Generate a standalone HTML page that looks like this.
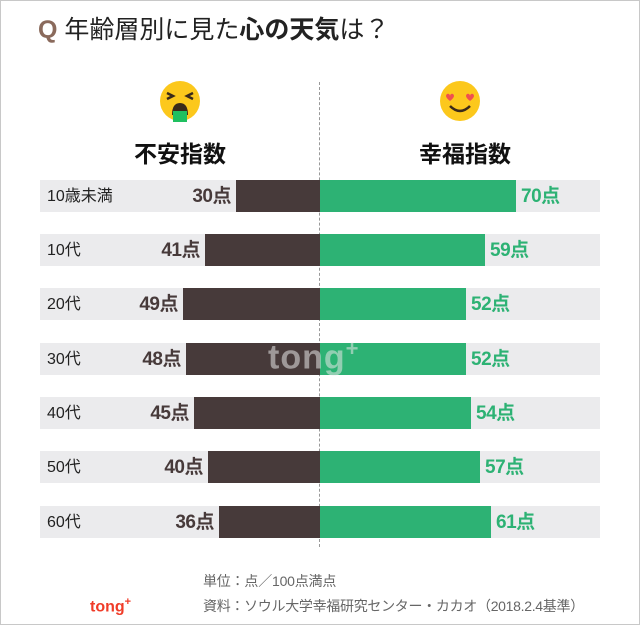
<!DOCTYPE html>
<html><head><meta charset="utf-8"><style>
*{margin:0;padding:0;box-sizing:border-box}
body{width:640px;height:625px;background:#fff;position:relative;overflow:hidden;font-family:"Liberation Sans","Noto Sans CJK JP",sans-serif}
.frame{position:absolute;left:0;top:0;width:640px;height:625px;border:1px solid #c8c8c8}
.abs{position:absolute;white-space:nowrap}
.row{position:absolute;left:40px;width:560px;height:32px;background:#ebebed}
.lab{position:absolute;left:7px;top:1px;line-height:32px;font-size:16px;color:#222}
.bl{position:absolute;top:0;height:32px;background:#473a3a}
.gr{position:absolute;top:0;height:32px;background:#2db274}
.vl{position:absolute;top:1px;line-height:32px;font-size:19px;font-weight:bold;letter-spacing:-0.5px}
</style></head><body>
<div class="frame"></div>
<div class="abs" style="left:38px;top:13px;font-size:25px;color:#222;line-height:34px"><span style="color:#8a6a5c;font-weight:bold">Q</span> 年齢層別に見た<b>心の天気</b>は？</div>
<div class="abs" style="left:319px;top:82px;height:465px;border-left:1px dashed #999"></div>
<svg class="abs" style="left:158px;top:80px" width="44" height="44" viewBox="0 0 44 44">
<ellipse cx="22" cy="21" rx="20" ry="20" fill="#fcc81c"/>
<path d="M9 13l6 3-6 3M35 13l-6 3 6 3" stroke="#3a2a1a" stroke-width="2.5" fill="none"/>
<path d="M14 35 Q14 23 22 23 Q30 23 30 35Z" fill="#3a2a1a"/>
<rect x="15" y="31" width="14" height="11" fill="#20c060"/>
</svg>
<svg class="abs" style="left:438px;top:80px" width="44" height="44" viewBox="0 0 44 44">
<ellipse cx="22" cy="21" rx="20" ry="20" fill="#fcc81c"/>
<path d="M8 16c0-3 4-3 4 0c0-3 4-3 4 0c0 2-4 5-4 5s-4-3-4-5zM28 16c0-3 4-3 4 0c0-3 4-3 4 0c0 2-4 5-4 5s-4-3-4-5z" fill="#f05050"/>
<path d="M12 26 Q22 36 32 26" stroke="#3a2a1a" stroke-width="2.5" fill="none"/>
</svg>
<div class="abs" style="left:100px;width:160px;text-align:center;top:135px;font-size:23px;font-weight:bold;color:#111">不安指数</div>
<div class="abs" style="left:385px;width:160px;text-align:center;top:135px;font-size:23px;font-weight:bold;color:#111">幸福指数</div>

<div class="row" style="top:180px"><div class="lab">10歳未満</div><div class="bl" style="left:196px;width:84px"></div><div class="vl" style="right:369px;color:#473a3a">30点</div><div class="gr" style="left:280px;width:196px"></div><div class="vl" style="left:481px;color:#2db274">70点</div></div>
<div class="row" style="top:234px"><div class="lab">10代</div><div class="bl" style="left:165px;width:115px"></div><div class="vl" style="right:400px;color:#473a3a">41点</div><div class="gr" style="left:280px;width:165px"></div><div class="vl" style="left:450px;color:#2db274">59点</div></div>
<div class="row" style="top:288px"><div class="lab">20代</div><div class="bl" style="left:143px;width:137px"></div><div class="vl" style="right:422px;color:#473a3a">49点</div><div class="gr" style="left:280px;width:146px"></div><div class="vl" style="left:431px;color:#2db274">52点</div></div>
<div class="row" style="top:343px"><div class="lab">30代</div><div class="bl" style="left:146px;width:134px"></div><div class="vl" style="right:419px;color:#473a3a">48点</div><div class="gr" style="left:280px;width:146px"></div><div class="vl" style="left:431px;color:#2db274">52点</div></div>
<div class="row" style="top:397px"><div class="lab">40代</div><div class="bl" style="left:154px;width:126px"></div><div class="vl" style="right:411px;color:#473a3a">45点</div><div class="gr" style="left:280px;width:151px"></div><div class="vl" style="left:436px;color:#2db274">54点</div></div>
<div class="row" style="top:451px"><div class="lab">50代</div><div class="bl" style="left:168px;width:112px"></div><div class="vl" style="right:397px;color:#473a3a">40点</div><div class="gr" style="left:280px;width:160px"></div><div class="vl" style="left:445px;color:#2db274">57点</div></div>
<div class="row" style="top:506px"><div class="lab">60代</div><div class="bl" style="left:179px;width:101px"></div><div class="vl" style="right:386px;color:#473a3a">36点</div><div class="gr" style="left:280px;width:171px"></div><div class="vl" style="left:456px;color:#2db274">61点</div></div>

<div class="abs" style="left:268px;top:336px;font-size:34px;font-weight:bold;color:rgba(230,230,230,0.55);letter-spacing:1px">tong<sup style="font-size:22px">+</sup></div>

<div class="abs" style="left:203px;top:571px;font-size:14px;color:#666;letter-spacing:-0.2px">単位：点／100点満点</div>
<div class="abs" style="left:203px;top:596px;font-size:14px;color:#666;letter-spacing:-0.3px">資料：ソウル大学幸福研究センター・カカオ（2018.2.4基準）</div>
<div class="abs" style="left:90px;top:596px;font-size:16px;font-weight:bold;color:#f03c28">tong<sup style="font-size:11px">+</sup></div>
</body></html>
